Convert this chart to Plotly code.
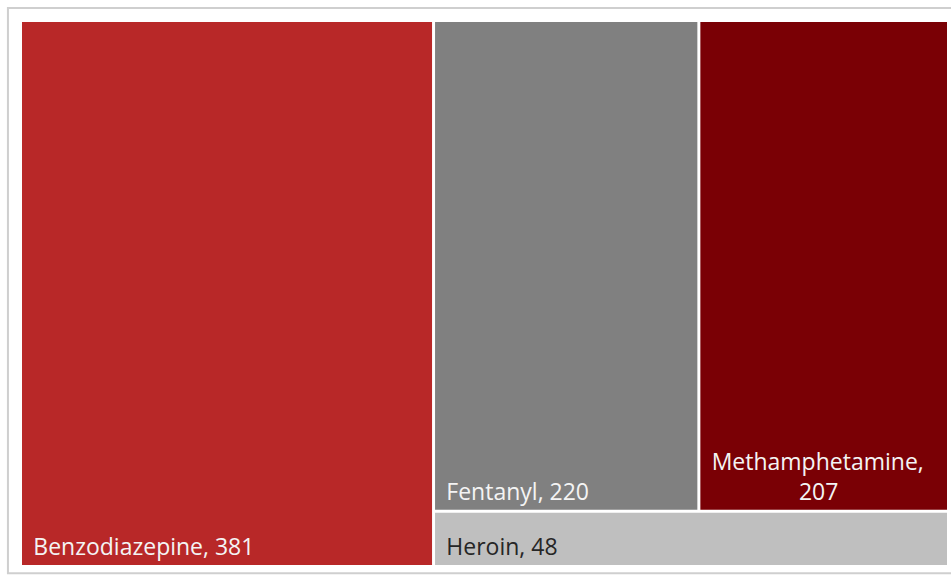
import plotly.graph_objects as go

# Drug categories and counts
drugs = ["Benzodiazepine", "Fentanyl", "Methamphetamine", "Heroin"]
counts = [381, 220, 207, 48]
tile_colors = ["#B82828", "#808080", "#7A0005", "#BFBFBF"]
label_colors = ["#F4F4F4", "#F4F4F4", "#F4F4F4", "#262626"]

NB = "\u00a0"
LEAD = NB + "\u200a"
labels_text = []
for d, c in zip(drugs, counts):
    if d == "Methamphetamine":
        labels_text.append(f"{LEAD}{d},<br>{NB*16}{c}")
    else:
        labels_text.append(f"{LEAD}{d}, {c}")

fig = go.Figure(
    go.Treemap(
        labels=drugs,
        parents=[""] * len(drugs),
        values=counts,
        text=labels_text,
        texttemplate="%{text}",
        textposition="bottom left",
        sort=True,
        tiling=dict(packing="squarify", squarifyratio=1, pad=3),
        marker=dict(
            colors=tile_colors,
            line=dict(color="white", width=0),
            pad=dict(t=0, l=0, r=0, b=0),
        ),
        insidetextfont=dict(family="Open Sans", size=23, color=label_colors),
        pathbar=dict(visible=False),
        hoverinfo="label+value",
    )
)

# Light frame around the chart area
fig.add_shape(
    type="rect",
    xref="paper",
    yref="paper",
    x0=-0.0152,
    x1=1.05,
    y0=-0.015,
    y1=1.026,
    line=dict(color="#CFCFCF", width=2),
    fillcolor="rgba(0,0,0,0)",
    layer="below",
)

fig.update_layout(
    width=951,
    height=575,
    margin=dict(l=22, r=4, t=22, b=10),
    paper_bgcolor="white",
    plot_bgcolor="white",
    font=dict(family="Open Sans"),
    showlegend=False,
)

fig.write_html("out.html")
